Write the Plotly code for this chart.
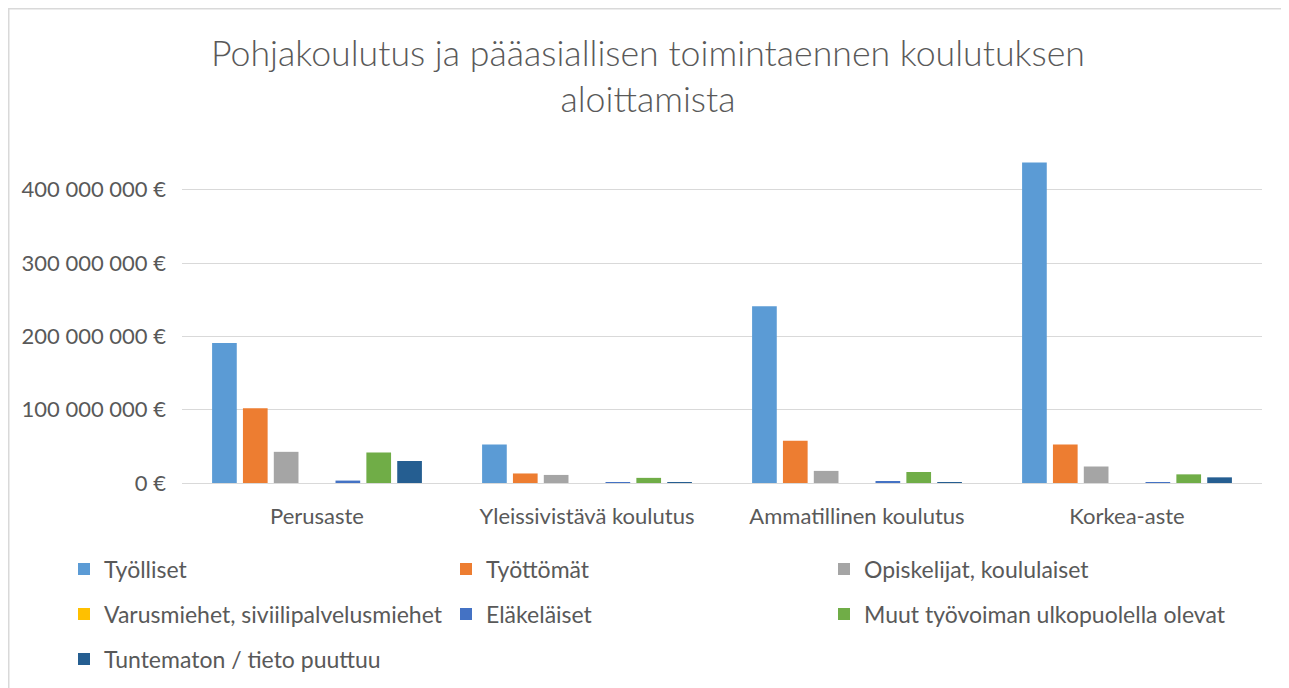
import plotly.graph_objects as go

categories = ["Perusaste", "Yleissivistävä koulutus", "Ammatillinen koulutus", "Korkea-aste"]
series_names = [
    "Työlliset", "Työttömät", "Opiskelijat, koululaiset",
    "Varusmiehet, siviilipalvelusmiehet", "Eläkeläiset",
    "Muut työvoiman ulkopuolella olevat", "Tuntematon / tieto puuttuu",
]
tyolliset = [191_000_000, 52_500_000, 241_000_000, 437_000_000]
tyottomat = [102_000_000, 13_000_000, 57_500_000, 52_500_000]
opiskelijat = [42_500_000, 11_000_000, 16_500_000, 22_500_000]
varusmiehet = [0, 0, 0, 0]
elakelaiset = [3_300_000, 1_000_000, 2_000_000, 1_200_000]
muut = [41_600_000, 7_000_000, 15_000_000, 11_800_000]
tuntematon = [30_000_000, 700_000, 500_000, 7_700_000]
tick_vals = [0, 100_000_000, 200_000_000, 300_000_000, 400_000_000]
tick_text = ["0 €", "100 000 000 €", "200 000 000 €", "300 000 000 €", "400 000 000 €"]
title_text = "Pohjakoulutus ja pääasiallisen toimintaennen koulutuksen<br>aloittamista"

values = [tyolliset, tyottomat, opiskelijat, varusmiehet, elakelaiset, muut, tuntematon]
colors = ["#5B9BD5", "#ED7D31", "#A5A5A5", "#FFC000", "#4472C4", "#70AD47", "#255E91"]

# page body has an 8px margin; work in page pixels and convert
OFF = 8
W, H = 1289 - OFF, 688 - OFF
ml, mr, mt, mb = 182 - OFF, 27, 153 - OFF, 688 - 483
pw = W - ml - mr
ph = H - mt - mb

def px_x(page_x):
    return (page_x - OFF - ml) / pw

def px_y(page_y):
    return (H - mb - (page_y - OFF)) / ph

FONT = "Lato, Carlito, Calibri, sans-serif"
font_col = "#595959"

# legend grid (page pixels): column left positions and row centres
col_x = [64, 446, 824]
row_y = [569, 614, 659]

fig = go.Figure()
legend_layouts = {}
for i, (name, vals, col) in enumerate(zip(series_names, values, colors)):
    lid = "legend" if i == 0 else f"legend{i + 1}"
    fig.add_trace(go.Bar(name=name, x=categories, y=vals, marker_color=col,
                         marker_line_width=0, legend=lid, showlegend=True))
    legend_layouts[lid] = dict(
        x=px_x(col_x[i % 3]), y=px_y(row_y[i // 3]),
        xanchor="left", yanchor="middle", orientation="h",
        font=dict(family=FONT, size=23, color=font_col),
        bgcolor="rgba(0,0,0,0)", itemclick=False, visible=True)

fig.update_layout(
    width=W, height=H,
    margin=dict(l=ml, r=mr, t=mt, b=mb, autoexpand=False),
    paper_bgcolor="white", plot_bgcolor="white",
    showlegend=True,
    barmode="group", bargap=0.2, bargroupgap=0.2,
    yaxis=dict(range=[0, 450_000_000], tickvals=tick_vals, ticktext=tick_text,
               showgrid=True, gridcolor="#D9D9D9", gridwidth=1, zeroline=True,
               zerolinecolor="#D9D9D9", zerolinewidth=1, ticks="", ticklabelstandoff=15,
               automargin=False,
               tickfont=dict(family=FONT, size=22, color=font_col)),
    xaxis=dict(showline=False, ticks="", ticklabelstandoff=18, automargin=False,
               tickfont=dict(family=FONT, size=22, color=font_col)),
    annotations=[dict(text=title_text, xref="paper", yref="paper",
                      x=px_x(648), y=px_y(75), xanchor="center", yanchor="middle",
                      showarrow=False,
                      font=dict(family=FONT, size=35.7, color=font_col, weight=300))],
    shapes=[dict(type="rect", xref="paper", yref="paper",
                 x0=px_x(OFF + 0.5), x1=px_x(1400),
                 y0=px_y(900), y1=px_y(OFF + 0.5),
                 line=dict(color="#D9D9D9", width=2), fillcolor="rgba(0,0,0,0)", layer="below")],
    **legend_layouts,
)

fig.write_html("out.html")
